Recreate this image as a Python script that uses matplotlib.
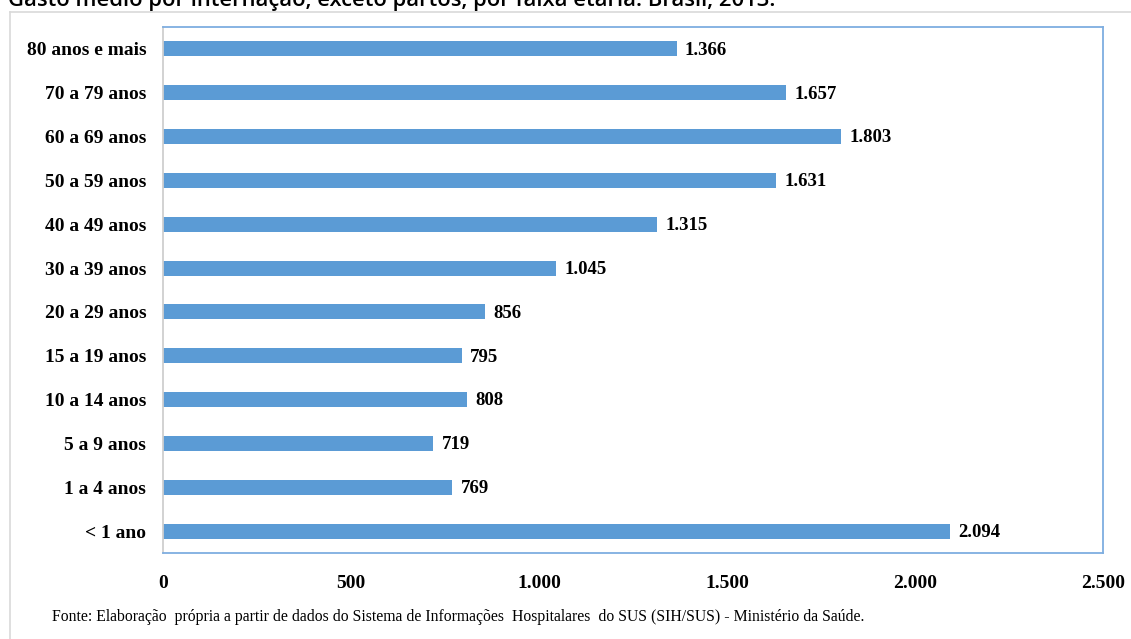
import matplotlib
matplotlib.use("Agg")
import matplotlib.pyplot as plt
from matplotlib.lines import Line2D

categories = ["80 anos e mais", "70 a 79 anos", "60 a 69 anos", "50 a 59 anos",
              "40 a 49 anos", "30 a 39 anos", "20 a 29 anos", "15 a 19 anos",
              "10 a 14 anos", "5 a 9 anos", "1 a 4 anos", "< 1 ano"]
values = [1366, 1657, 1803, 1631, 1315, 1045, 856, 795, 808, 719, 769, 2094]
xticks = [0, 500, 1000, 1500, 2000, 2500]
xtick_labels = ["0", "500", "1.000", "1.500", "2.000", "2.500"]
title = "Gasto médio por internação, exceto partos, por faixa etária. Brasil, 2013."
source = "Fonte: Elaboração  própria a partir de dados do Sistema de Informações  Hospitalares  do SUS (SIH/SUS) - Ministério da Saúde."

def fmt(v):
    return f"{v:,}".replace(",", ".")

W, H = 1131, 639
fig = plt.figure(figsize=(W/100, H/100), dpi=100)
serif = "Liberation Serif"

# outer frame lines (screenshot border)
fig.add_artist(Line2D([10/W, 1], [1-12/H, 1-12/H], color="#d9d9d9", lw=1.2, transform=fig.transFigure))
fig.add_artist(Line2D([10/W, 10/W], [0, 1-12/H], color="#d9d9d9", lw=1.2, transform=fig.transFigure))

# title, partly cut off at the top edge as in the reference screenshot
fig.text(8/W, 1-6/H, title, fontsize=15.8, fontweight="semibold", family="Open Sans",
         color="black", ha="left", va="baseline")

ax = fig.add_axes([163/W, 1-553/H, (1103-163)/W, (553-27)/H])
y = list(range(len(categories)))
ax.barh(y, values, height=0.34, color="#5b9bd5", zorder=2)
ax.set_ylim(len(categories)-0.5, -0.5)
ax.set_xlim(0, 2500)
ax.set_yticks(y)
ax.set_yticklabels(categories, fontsize=14, fontweight="bold", family=serif)
ax.set_xticks(xticks)
ax.set_xticklabels(xtick_labels, fontsize=14, fontweight="bold", family=serif)
ax.tick_params(axis="both", length=0)
ax.tick_params(axis="y", pad=12)
ax.tick_params(axis="x", pad=16)
for yi, v in zip(y, values):
    ax.text(v + 22, yi + 0.03, fmt(v), va="center", ha="left", fontsize=13.5,
            fontweight="bold", family=serif)
for s in ["top", "right", "bottom"]:
    ax.spines[s].set_color("#7eaee0")
    ax.spines[s].set_linewidth(1.3)
ax.spines["left"].set_color("#cfcfcf")
ax.spines["left"].set_linewidth(1.3)

fig.text(52/W, 1-617/H, source, fontsize=11.3, family=serif, ha="left", va="center")

fig.savefig("out.png", dpi=100)
